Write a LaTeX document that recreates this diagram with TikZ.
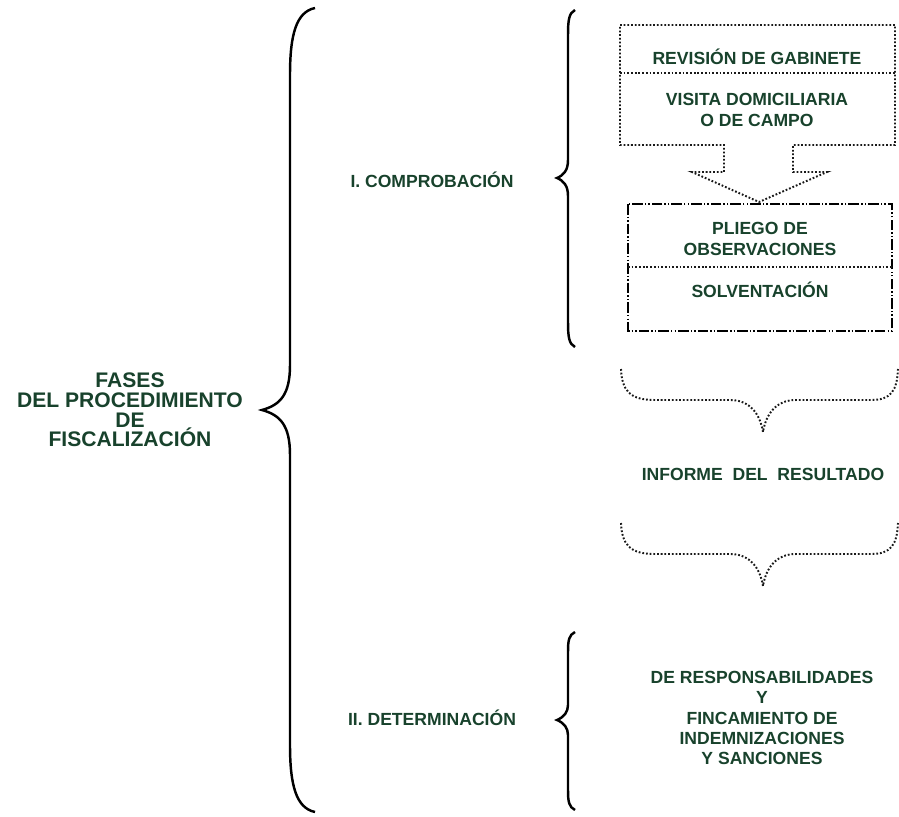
\documentclass[tikz,border=0pt]{standalone}
\usepackage{fontspec}
\setmainfont{Liberation Sans}
\definecolor{txtgreen}{RGB}{24,66,44}
\tikzset{
  lbl/.style={font=\bfseries\fontsize{10}{11.6}\selectfont, text=txtgreen, align=center, inner sep=0pt},
  bigbrace/.style={line width=1.4pt, black},
  dotline/.style={line width=1.1pt, black!90, dash pattern=on 1pt off 1.1pt},
  dashdotdot/.style={line width=0.7pt, black, dash pattern=on 6pt off 1.2pt on 0.8pt off 1.2pt on 0.8pt off 1.2pt}
}
\begin{document}
\begin{tikzpicture}[x=0.02cm, y=-0.02cm]
            \useasboundingbox (0,0) rectangle (899,817);
            % texts
            \node[lbl, font=\bfseries\fontsize{12}{11.2}\selectfont] (fases) at (130,410) {FASES\\DEL PROCEDIMIENTO\\DE\\FISCALIZACIÓN};
            \node[lbl] (comp) at (432,180) {I. COMPROBACIÓN};
            \node[lbl] (det) at (432,718) {II. DETERMINACIÓN};
            \node[lbl] (rev) at (757,57) {REVISIÓN DE GABINETE};
            \node[lbl] (visita) at (757,110) {VISITA DOMICILIARIA\\O DE CAMPO};
            \node[lbl] (pliego) at (760,239) {PLIEGO DE\\OBSERVACIONES};
            \node[lbl] (solv) at (760,290) {SOLVENTACIÓN};
            \node[lbl] (inf) at (763,474) {INFORME\ \ DEL\ \ RESULTADO};
            \node[lbl] (resp) at (762,718) {DE RESPONSABILIDADES\\Y\\FINCAMIENTO DE\\INDEMNIZACIONES\\Y SANCIONES};
            % braces
            \draw[bigbrace] (315,8) .. controls (296,12) and (290,35) .. (290,75) -- (290,365)
                .. controls (290,395) and (280,405) .. (262,410)
                .. controls (280,415) and (290,425) .. (290,455) -- (290,745)
                .. controls (290,785) and (296,808) .. (315,812);
            \draw[bigbrace] (575,10) .. controls (569,13) and (568,20) .. (568,35) -- (568,160)
                .. controls (568,170) and (564,175) .. (557,178)
                .. controls (564,181) and (568,186) .. (568,196) -- (568,322)
                .. controls (568,337) and (569,344) .. (575,347);
            \draw[bigbrace] (575,632) .. controls (569,635) and (568,640) .. (568,652) -- (568,705)
                .. controls (568,712) and (564,717) .. (557,720)
                .. controls (564,723) and (568,728) .. (568,735) -- (568,790)
                .. controls (568,802) and (569,807) .. (575,810);
            % top box with arrow
            \draw[dotline] (620,25) -- (895,25) -- (895,145) -- (793,145) -- (793,172) -- (827,172)
                -- (759,202) -- (692,172) -- (724,172) -- (724,145) -- (620,145) -- cycle;
            \draw[dotline] (620,73) -- (895,73);
            % second box
            \draw[dashdotdot] (628,204) rectangle (892,331);
            \draw[dotline] (628,267) -- (892,267);
            % dotted braces
            \foreach \yy in {369,523} {
              \draw[dotline] (621,\yy) .. controls (622,\yy+22) and (630,\yy+31) .. (655,\yy+31) -- (730,\yy+31)
                  .. controls (750,\yy+31) and (760,\yy+45) .. (763,\yy+63)
                  .. controls (766,\yy+45) and (776,\yy+31) .. (796,\yy+31) -- (871,\yy+31)
                  .. controls (891,\yy+31) and (897,\yy+22) .. (898,\yy);
            }
        \end{tikzpicture}
\end{document}
